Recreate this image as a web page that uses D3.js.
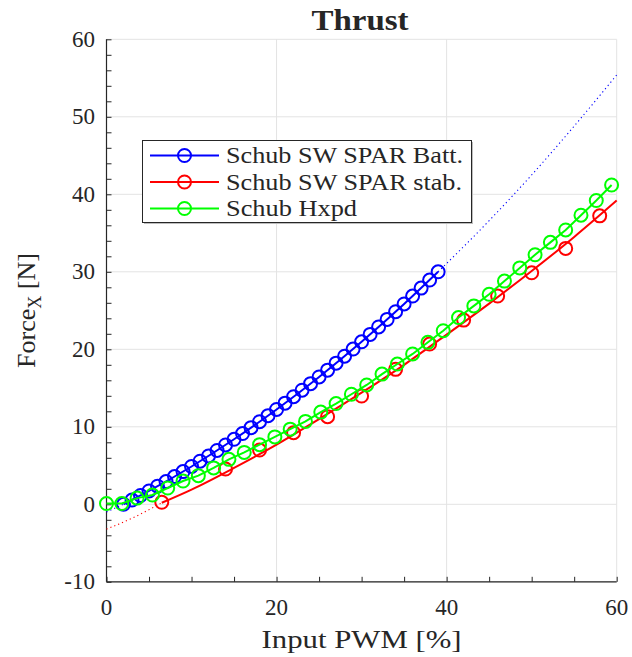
<!DOCTYPE html>
<html>
<head>
<meta charset="utf-8">
<script src="https://cdn.jsdelivr.net/npm/d3@7"></script>
<style>
  html, body { margin: 0; padding: 0; background: #fff; }
  svg { display: block; }
  text { font-family: "Liberation Serif", "Times New Roman", serif; fill: #262626; }
</style>
</head>
<body>
<svg id="chart" width="632" height="657"></svg>
<script>
// ---- data ----
const titleText = "Thrust";
const xLabel = "Input PWM [%]";
const xTicks = [0, 20, 40, 60];
const yTicks = [-10, 0, 10, 20, 30, 40, 50, 60];
const xMinorTicks = [0, 5, 10, 15, 20, 25, 30, 35, 40, 45, 50, 55, 60];
const yMinorTicks = [-10, -8, -6, -4, -2, 0, 2, 4, 6, 8, 10, 12, 14, 16, 18, 20, 22, 24, 26, 28, 30, 32, 34, 36, 38, 40, 42, 44, 46, 48, 50, 52, 54, 56, 58, 60];
const seriesNames = ["Schub SW SPAR Batt.", "Schub SW SPAR stab.", "Schub Hxpd"];
const seriesColors = ["#0000ff", "#ff0000", "#00ff00"];

// Blue: measured points
const blueX = [2, 3, 4, 5, 6, 7, 8, 9, 10, 11, 12, 13, 14, 15, 16, 17, 18, 19, 20, 21, 22, 23, 24, 25, 26, 27, 28, 29, 30, 31, 32, 33, 34, 35, 36, 37, 38, 39];
const blueY = [0.0, 0.55, 1.13, 1.72, 2.33, 2.94, 3.58, 4.22, 4.88, 5.56, 6.24, 6.95, 7.66, 8.39, 9.13, 9.89, 10.66, 11.44, 12.24, 13.05, 13.88, 14.72, 15.57, 16.43, 17.31, 18.21, 19.11, 20.03, 20.97, 21.92, 22.88, 23.86, 24.85, 25.85, 26.87, 27.90, 28.94, 30.0];
// Blue: fitted curve
const blueFitX = [0, 2, 5, 10, 15, 20, 25, 30, 35, 39, 45, 50, 55, 60];
const blueFitY = [-1.0, 0.0, 1.72, 4.88, 8.39, 12.24, 16.43, 20.97, 25.85, 30.0, 36.6, 42.5, 48.8, 55.4];
const blueSolidRange = [2, 39];

// Red: measured points
const redX = [6.5, 14, 18, 22, 26, 30, 34, 38, 42, 46, 50, 54, 58];
const redY = [0.26, 4.55, 7.0, 9.24, 11.3, 13.97, 17.41, 20.68, 23.77, 26.87, 29.87, 33.02, 37.22];
// Red: fitted curve
const redFitX = [0, 3, 6.5, 10, 15, 20, 25, 30, 35, 40, 45, 50, 55, 60];
const redFitY = [-3.2, -1.8, 0.2, 1.9, 4.7, 7.7, 11.0, 14.4, 18.0, 21.9, 25.9, 30.1, 34.5, 39.2];
const redSolidRange = [6.5, 60];

// Green: measured points
const greenX = [0, 1.8, 3.6, 5.4, 7.2, 9.0, 10.8, 12.6, 14.4, 16.2, 18.0, 19.8, 21.6, 23.4, 25.2, 27.0, 28.8, 30.6, 32.4, 34.2, 36.0, 37.8, 39.6, 41.4, 43.2, 45.0, 46.8, 48.6, 50.4, 52.2, 54.0, 55.8, 57.6, 59.4];
const greenY = [0.1, 0.1, 0.8, 1.2, 2.1, 3.0, 3.7, 4.7, 5.8, 6.7, 7.7, 8.7, 9.7, 10.7, 11.9, 13.0, 14.2, 15.4, 16.8, 18.1, 19.4, 20.9, 22.4, 24.1, 25.6, 27.1, 28.8, 30.5, 32.2, 33.8, 35.4, 37.3, 39.2, 41.2];

// ---- layout ----
const svg = d3.select("#chart");
const plot = { left: 106.5, right: 616.7, top: 39.3, bottom: 581.8 };
const x = d3.scaleLinear().domain([0, 60]).range([plot.left, plot.right]);
const y = d3.scaleLinear().domain([-10, 60]).range([plot.bottom, plot.top]);

svg.append("rect").attr("width", 632).attr("height", 657).attr("fill", "#fff");

// grid
const grid = svg.append("g").attr("stroke", "#e3e3e3").attr("stroke-width", 1);
grid.selectAll("line.gx").data(xTicks).join("line")
  .attr("x1", d => x(d)).attr("x2", d => x(d)).attr("y1", plot.top).attr("y2", plot.bottom);
grid.selectAll("line.gy").data(yTicks).join("line")
  .attr("y1", d => y(d)).attr("y2", d => y(d)).attr("x1", plot.left).attr("x2", plot.right);

// axes (ticks inward)
const xAxis = d3.axisBottom(x).tickValues(xMinorTicks).tickSize(-5).tickFormat("");
const yAxis = d3.axisLeft(y).tickValues(yMinorTicks).tickSize(-5).tickFormat("");
const gx = svg.append("g").attr("transform", `translate(0,${plot.bottom})`).call(xAxis);
const gy = svg.append("g").attr("transform", `translate(${plot.left},0)`).call(yAxis);
[gx, gy].forEach(g => {
  g.select(".domain").attr("stroke", "#262626").attr("stroke-width", 1.2);
  g.selectAll(".tick line").attr("stroke", "#262626").attr("stroke-width", 1);
});
gx.select(".domain").attr("d", `M${plot.left},0H${plot.right}`);
gy.select(".domain").attr("d", `M0,${plot.bottom}V${plot.top}`);

// tick labels
svg.append("g").selectAll("text").data(xTicks).join("text")
  .attr("x", d => x(d)).attr("y", 615).attr("text-anchor", "middle")
  .attr("font-size", 23).text(d => d);
svg.append("g").selectAll("text").data(yTicks).join("text")
  .attr("x", 95).attr("y", d => y(d) + 7.5).attr("text-anchor", "end")
  .attr("font-size", 23).text(d => d);

// title and labels
svg.append("text").attr("x", 360).attr("y", 29.5).attr("text-anchor", "middle")
  .attr("font-size", 29).attr("font-weight", "bold").attr("fill", "#000")
  .attr("textLength", 97).attr("lengthAdjust", "spacingAndGlyphs").text(titleText);
svg.append("text").attr("x", 361.6).attr("y", 648).attr("text-anchor", "middle")
  .attr("font-size", 26).attr("textLength", 200).attr("lengthAdjust", "spacingAndGlyphs").text(xLabel);
const yl = svg.append("text").attr("transform", `translate(35,${(plot.top + plot.bottom) / 2}) rotate(-90)`)
  .attr("text-anchor", "middle").attr("font-size", 26);
yl.append("tspan").text("Force");
yl.append("tspan").attr("font-size", 18).attr("dy", 6).text("X");
yl.append("tspan").attr("dy", -6).text(" [N]");

// series drawing helpers
const pts = (xs, ys) => xs.map((v, i) => [v, ys[i]]);
const lineGen = d3.line().x(d => x(d[0])).y(d => y(d[1]));
const smoothGen = d3.line().x(d => x(d[0])).y(d => y(d[1])).curve(d3.curveMonotoneX);
const g = svg.append("g");

function drawFit(fx, fy, range, color) {
  const all = pts(fx, fy);
  const before = all.filter(d => d[0] <= range[0]);
  const solid = all.filter(d => d[0] >= range[0] && d[0] <= range[1]);
  const after = all.filter(d => d[0] >= range[1]);
  [before, after].forEach(seg => {
    if (seg.length > 1) g.append("path").attr("d", smoothGen(seg)).attr("fill", "none")
      .attr("stroke", color).attr("stroke-width", 1.1).attr("stroke-dasharray", "1.2,3");
  });
  g.append("path").attr("d", smoothGen(solid)).attr("fill", "none")
    .attr("stroke", color).attr("stroke-width", 2);
}
function drawMarkers(xs, ys, color) {
  g.append("g").selectAll("circle").data(pts(xs, ys)).join("circle")
    .attr("cx", d => x(d[0])).attr("cy", d => y(d[1])).attr("r", 6.5)
    .attr("fill", "none").attr("stroke", color).attr("stroke-width", 2);
}

drawFit(blueFitX, blueFitY, blueSolidRange, seriesColors[0]);
drawMarkers(blueX, blueY, seriesColors[0]);
drawFit(redFitX, redFitY, redSolidRange, seriesColors[1]);
drawMarkers(redX, redY, seriesColors[1]);
g.append("path").attr("d", lineGen(pts(greenX, greenY))).attr("fill", "none")
  .attr("stroke", seriesColors[2]).attr("stroke-width", 2);
drawMarkers(greenX, greenY, seriesColors[2]);

// legend
const lg = svg.append("g");
lg.append("rect").attr("x", 144).attr("y", 142).attr("width", 329).attr("height", 82)
  .attr("fill", "#bdbdbd");
lg.append("rect").attr("x", 142.5).attr("y", 140.5).attr("width", 329).attr("height", 82)
  .attr("fill", "#fff").attr("stroke", "#262626").attr("stroke-width", 1);
const legendLens = [237, 236, 131];
seriesNames.forEach((name, i) => {
  const cy = 155.5 + i * 26.5;
  lg.append("line").attr("x1", 150).attr("x2", 219).attr("y1", cy).attr("y2", cy)
    .attr("stroke", seriesColors[i]).attr("stroke-width", 2);
  lg.append("circle").attr("cx", 184.5).attr("cy", cy).attr("r", 6.5)
    .attr("fill", "none").attr("stroke", seriesColors[i]).attr("stroke-width", 2);
  lg.append("text").attr("x", 226).attr("y", cy + 7.5).attr("font-size", 23)
    .attr("fill", "#000").attr("textLength", legendLens[i]).attr("lengthAdjust", "spacingAndGlyphs")
    .text(name);
});
</script>
</body>
</html>
